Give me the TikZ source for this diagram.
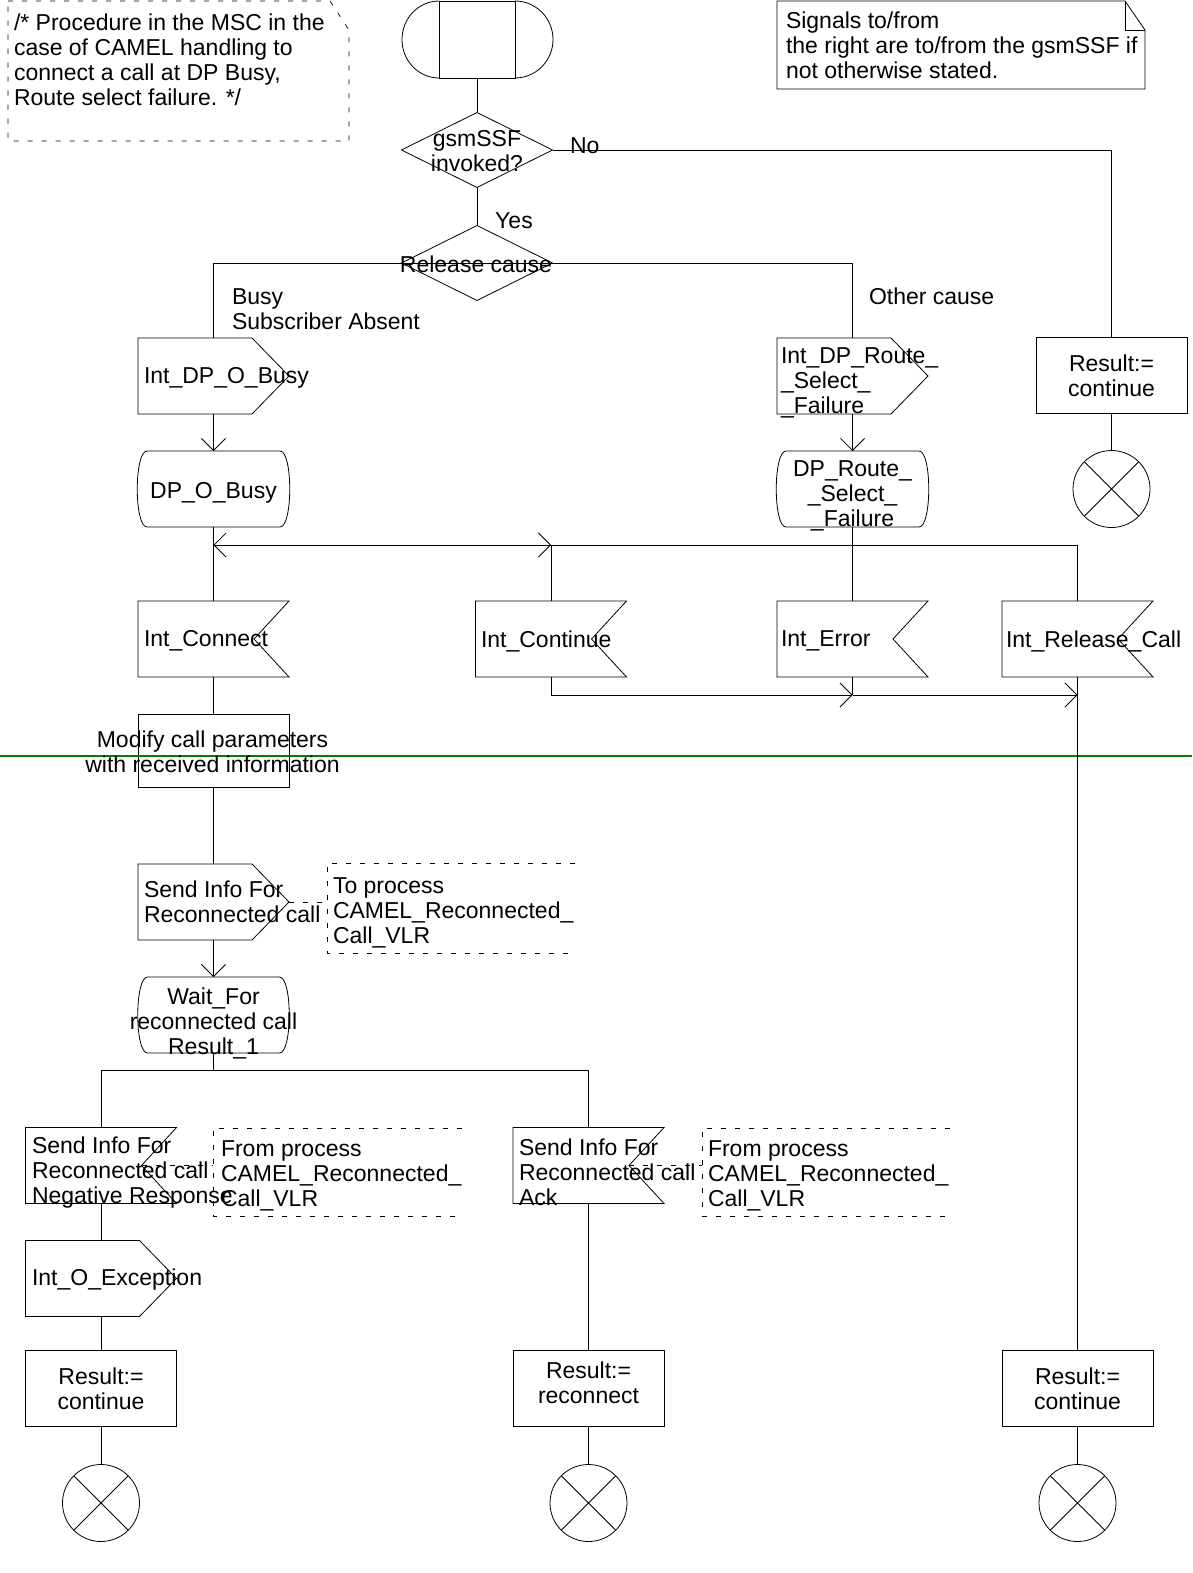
\documentclass[tikz,border=0pt]{standalone}
\usepackage{fontspec}
\setmainfont{Liberation Sans}
\usetikzlibrary{arrows.meta}
\newcommand\myoutsig[1]{\draw (#1.north west) -- ([xshift=-37pt]#1.north east) -- (#1.east) -- ([xshift=-37pt]#1.south east) -- (#1.south west) -- cycle;}
\newcommand\myinsig[1]{\draw (#1.north west) -- (#1.north east) -- ([xshift=-35pt]#1.east) -- (#1.south east) -- (#1.south west) -- cycle;}
\newcommand\mystate[1]{\draw ([xshift=10pt]#1.north west) -- ([xshift=-10pt]#1.north east) .. controls ([xshift=3pt]#1.north east) and ([xshift=3pt]#1.south east) .. ([xshift=-10pt]#1.south east) -- ([xshift=10pt]#1.south west) .. controls ([xshift=-3pt]#1.south west) and ([xshift=-3pt]#1.north west) .. ([xshift=10pt]#1.north west);}
\newcommand\mydiam[1]{\draw (#1.north) -- (#1.east) -- (#1.south) -- (#1.west) -- cycle;}
\newcommand\myterm[1]{\draw (#1.north west) -- (#1.south east) (#1.north east) -- (#1.south west);}
\begin{document}
\begin{tikzpicture}[x=1pt,y=-1pt, line width=0.8pt,
  every node/.style={font=\fontsize{23}{25}\selectfont},
  blk/.style={inner sep=0pt, outer sep=0pt, minimum width=151pt, minimum height=76pt},
  txt/.style={inner sep=0pt, outer sep=0pt},
  endc/.style={circle, draw, inner sep=0pt, outer sep=0pt, minimum size=77pt},
  arr/.style={-{Straight Barb[length=12pt,width=24pt]}},
  cmt/.style={dash pattern=on 5pt off 9pt, line width=0.7pt},
  grn/.style={draw={rgb,255:red,0;green,128;blue,0}, line width=1.3pt}]
\useasboundingbox (0,0) rectangle (1192,1573);

% comment top-left
\node[txt, minimum width=341pt, minimum height=140pt, anchor=north west] (cm1) at (8,1) {};
\draw[cmt] (cm1.north west) -- ([xshift=-19pt]cm1.north east) -- ([yshift=-29pt]cm1.north east) -- (cm1.south east) -- (cm1.south west) -- cycle;
\node[txt, anchor=west, align=left] (cm1t) at (14,59.5) {/* Procedure in the MSC in the\\case of CAMEL handling to\\connect a call at DP Busy,\\Route select failure. */};

% note top-right
\node[txt, minimum width=368pt, minimum height=88pt, anchor=north west] (note) at (777,1) {};
\draw (note.north west) -- ([xshift=-20pt]note.north east) -- ([yshift=-29pt]note.north east) -- (note.south east) -- (note.south west) -- cycle;
\draw ([xshift=-20pt]note.north east) -- ([xshift=-20pt,yshift=-29pt]note.north east) -- ([yshift=-29pt]note.north east);
\node[txt, anchor=west, align=left] (notet) at (786,45) {Signals to/from\\the right are to/from the gsmSSF if\\not otherwise stated.};

% start
\node[blk, minimum width=152pt, minimum height=77pt] (start) at (477,39.5) {};
\draw ([xshift=-38pt]start.north) rectangle ([xshift=38pt]start.south);
\draw ([xshift=-38pt]start.north) arc[start angle=90,end angle=270,x radius=37pt,y radius=38.5pt];
\draw ([xshift=38pt]start.south) arc[start angle=-90,end angle=90,x radius=38pt,y radius=38.5pt];

% decisions
\node[blk, minimum height=75pt] (d1) at (477,150) {};
\mydiam{d1}
\node[txt, align=center] (d1t) at (477,151) {gsmSSF\\invoked?};
\node[txt, anchor=west] (no) at (570,146) {No};
\node[txt] (yes) at (514,221) {Yes};
\node[blk, minimum height=75pt] (d2) at (477,263) {};
\mydiam{d2}
\node[txt] (d2t) at (476,264) {Release cause};
\node[txt, anchor=west, align=left] (busy) at (232,309.5) {Busy\\Subscriber Absent};
\node[txt, anchor=west] (other) at (869,296) {Other cause};

% first signals
\node[blk] (ido) at (213.5,376) {};
\myoutsig{ido}
\node[txt, anchor=west] (idot) at (144,378) {Int\_DP\_O\_Busy};
\node[blk] (idr) at (852.5,376) {};
\myoutsig{idr}
\node[txt, anchor=west, align=left] (idrt) at (781,383) {Int\_DP\_Route\_\\\_Select\_\\\_Failure};
\node[blk, draw] (rtop) at (1111.5,375.5) {};
\node[txt, align=center] (rtopt) at (1111.5,376) {Result:=\\continue};
\node[endc] (etop) at (1111.5,489) {};
\myterm{etop}

% states
\node[blk, minimum width=153pt] (sbusy) at (213.5,489) {};
\mystate{sbusy}
\node[txt] (sbusyt) at (213.5,493) {DP\_O\_Busy};
\node[blk, minimum width=153pt] (sroute) at (852.5,489) {};
\mystate{sroute}
\node[txt, align=center] (sroutet) at (852.5,496) {DP\_Route\_\\\_Select\_\\\_Failure};

% input row
\node[blk] (icon) at (213.5,639) {};
\myinsig{icon}
\node[txt, anchor=west] (icont1) at (144,641) {Int\_Connect};
\node[blk] (icont) at (551,639) {};
\myinsig{icont}
\node[txt, anchor=west] (icont2) at (481,641) {Int\_Continue};
\node[blk] (ierr) at (852.5,639) {};
\myinsig{ierr}
\node[txt, anchor=west] (ierrt) at (781,641) {Int\_Error};
\node[blk] (irel) at (1077.5,639) {};
\myinsig{irel}
\node[txt, anchor=west] (irelt) at (1006,641) {Int\_Release\_Call};

% modify
\node[blk, draw, minimum height=73pt] (mod) at (213.5,750.5) {};
\draw[grn] (0,756) -- (1192,756);
\node[txt, align=center] (modt) at (212.5,752) {Modify call parameters\\with received information};

% send
\node[blk] (send) at (213.5,902) {};
\myoutsig{send}
\node[txt, anchor=west, align=left] (sendt) at (144,901.5) {Send Info For\\Reconnected call};
\node[txt, minimum width=248pt, minimum height=90pt] (cm2) at (451,908) {};
\draw[cmt] (cm2.north east) -- (cm2.north west) -- (cm2.south west) -- (cm2.south east);
\node[txt, anchor=west, align=left] (cm2t) at (333,913) {To process\\CAMEL\_Reconnected\_\\Call\_VLR};
\draw[cmt] (send.east) -- (send.east -| cm2.west);

% wait
\node[blk, minimum width=152pt] (wait) at (213.5,1015) {};
\mystate{wait}
\node[txt, align=center] (waitt) at (213.5,1023) {Wait\_For\\reconnected call\\Result\_1};

% bottom inputs
\node[blk] (ineg) at (101,1165.5) {};
\myinsig{ineg}
\node[txt, anchor=west, align=left] (inegt) at (32,1172.5) {Send Info For\\Reconnected call\\Negative Response};
\node[txt, minimum width=249pt, minimum height=88pt] (cm3) at (337.5,1172) {};
\draw[cmt] (cm3.north east) -- (cm3.north west) -- (cm3.south west) -- (cm3.south east);
\node[txt, anchor=west, align=left] (cm3t) at (221,1176) {From process\\CAMEL\_Reconnected\_\\Call\_VLR};
\draw[cmt] ([xshift=-35pt]ineg.east) -- (ineg.east -| cm3.west);

\node[blk] (iack) at (588.5,1165.5) {};
\myinsig{iack}
\node[txt, anchor=west, align=left] (iackt) at (519,1172.5) {Send Info For\\Reconnected call\\Ack};
\node[txt, minimum width=248pt, minimum height=88pt] (cm4) at (826,1172) {};
\draw[cmt] (cm4.north east) -- (cm4.north west) -- (cm4.south west) -- (cm4.south east);
\node[txt, anchor=west, align=left] (cm4t) at (708,1176) {From process\\CAMEL\_Reconnected\_\\Call\_VLR};
\draw[cmt] ([xshift=-35pt]iack.east) -- (iack.east -| cm4.west);

\node[blk] (oexc) at (101,1278.5) {};
\myoutsig{oexc}
\node[txt, anchor=west] (oexct) at (32,1280) {Int\_O\_Exception};

% results
\node[blk, draw] (rneg) at (101,1388.5) {};
\node[txt, align=center] (rnegt) at (101,1389) {Result:=\\continue};
\node[blk, draw] (rack) at (588.5,1388.5) {};
\node[txt, align=center] (rackt) at (588.5,1383) {Result:=\\reconnect};
\node[blk, draw] (rrel) at (1077.5,1388.5) {};
\node[txt, align=center] (rrelt) at (1077.5,1389) {Result:=\\continue};
\node[endc] (e1) at (101,1503) {};
\myterm{e1}
\node[endc] (e2) at (588.5,1503) {};
\myterm{e2}
\node[endc] (e3) at (1077.5,1503) {};
\myterm{e3}

% junction coordinates
\coordinate (jk) at (1111.5,150);
\coordinate (jl) at (213.5,263);
\coordinate (jm) at (852.5,263);
\coordinate (ja) at (213.5,545);
\coordinate (jb) at (551,545);
\coordinate (jc) at (852.5,545);
\coordinate (jd) at (1077.5,545);
\coordinate (je) at (551,695);
\coordinate (jf) at (852.5,695);
\coordinate (jg) at (1077.5,695);
\coordinate (jh) at (213.5,1070);
\coordinate (ji) at (101,1070);
\coordinate (jj) at (588.5,1070);

% connectors
\draw (start.south) -- (d1.north);
\draw (d1.east) -- (jk) -- (rtop.north);
\draw (d1.south) -- (d2.north);
\draw (ido.north) -- (jl) -- (jm) -- (idr.north);
\draw[arr] (ido.south) -- (sbusy.north);
\draw[arr] (idr.south) -- (sroute.north);
\draw (rtop.south) -- (etop.north);
\draw (sbusy.south) -- (icon.north);
\draw[arr] (jc) -- (ja);
\draw[arr] (ja) -- (jb);
\draw (jb) -- (icont.north);
\draw (sroute.south) -- (ierr.north);
\draw (jc) -- (jd) -- (irel.north);
\draw[arr] (icont.south) -- (je) -- (jf);
\draw (ierr.south) -- (jf);
\draw[arr] (jf) -- (jg);
\draw (irel.south) -- (rrel.north);
\draw (icon.south) -- (mod.north);
\draw (mod.south) -- (send.north);
\draw[arr] (send.south) -- (wait.north);
\draw (wait.south) -- (jh);
\draw (ji) -- (jj);
\draw (ji) -- (ineg.north);
\draw (jj) -- (iack.north);
\draw (ineg.south) -- (oexc.north);
\draw (oexc.south) -- (rneg.north);
\draw (rneg.south) -- (e1.north);
\draw (iack.south) -- (rack.north);
\draw (rack.south) -- (e2.north);
\draw (rrel.south) -- (e3.north);
\end{tikzpicture}
\end{document}
